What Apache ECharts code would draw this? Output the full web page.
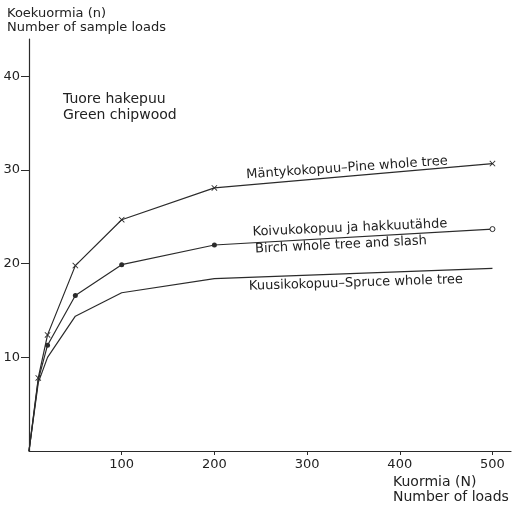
<!DOCTYPE html>
<html><head><meta charset="utf-8">
<script src="https://cdn.jsdelivr.net/npm/echarts@6/dist/echarts.min.js"></script>
<style>html,body{margin:0;padding:0;background:#fff}#c{width:514px;height:506px}</style>
</head><body><div id="c"></div>
<script>
const loads = [0, 10, 20, 50, 100, 200, 500];
const pine = [0, 7.8, 12.4, 19.8, 24.7, 28.1, 30.7];
const birch = [0, 7.6, 11.3, 16.6, 19.9, 22.0, 23.7];
const spruce = [0, 7.3, 10.0, 14.4, 16.9, 18.4, 19.5];
const xTicks = [100, 200, 300, 400, 500];
const yTicks = [10, 20, 30, 40];

const ink = '#2b2b2b';
const FONT = 'DejaVu Sans';
const X_SYM = 'path://M0,1L1,0L5,4L9,0L10,1L6,5L10,9L9,10L5,6L1,10L0,9L4,5Z';

const pineData = loads.map((x, i) => ({value: [x, pine[i]], symbol: i === 0 ? 'none' : X_SYM, symbolSize: 6}));
const birchData = loads.map((x, i) => {
  const d = {value: [x, birch[i]], symbol: i <= 1 ? 'none' : 'circle', symbolSize: 5};
  if (i === loads.length - 1) d.itemStyle = {color: '#fff', borderColor: ink, borderWidth: 1};
  return d;
});
const spruceData = loads.map((x, i) => [x, spruce[i]]);

function txt(x, y, s, size) {
  return {type: 'text', x: x, y: y, silent: true,
    style: {text: s, fill: '#222', font: size + 'px "' + FONT + '"', textAlign: 'left', textVerticalAlign: 'middle'}};
}
function rtxt(cx, cy, s, rot) {
  return {type: 'text', x: cx, y: cy, rotation: rot, silent: true,
    style: {text: s, fill: '#222', font: '13px "' + FONT + '"', textAlign: 'center', textVerticalAlign: 'middle'}};
}

const chart = echarts.init(document.getElementById('c'), null, {renderer: 'canvas'});
chart.setOption({
  animation: false,
  backgroundColor: '#fff',
  grid: {left: 29, right: 3, top: 39, bottom: 55, containLabel: false},
  xAxis: {
    type: 'value', min: 0, max: 520,
    axisLine: {show: true, lineStyle: {color: ink, width: 1.2}},
    axisTick: {show: true, length: 4, customValues: xTicks, lineStyle: {color: ink}},
    axisLabel: {customValues: xTicks, margin: 7, color: '#222', fontSize: 13, fontFamily: FONT},
    splitLine: {show: false}
  },
  yAxis: {
    type: 'value', min: 0, max: 44,
    axisLine: {show: true, lineStyle: {color: ink, width: 1.2}},
    axisTick: {show: true, length: 8, customValues: yTicks, lineStyle: {color: ink}},
    axisLabel: {customValues: yTicks, margin: 9, color: '#222', fontSize: 13, fontFamily: FONT},
    splitLine: {show: false}
  },
  series: [
    {type: 'line', data: pineData, lineStyle: {color: ink, width: 1.2}, itemStyle: {color: ink}, showAllSymbol: true},
    {type: 'line', data: birchData, lineStyle: {color: ink, width: 1.2}, itemStyle: {color: ink}, showAllSymbol: true},
    {type: 'line', data: spruceData, symbol: 'none', lineStyle: {color: ink, width: 1.2}}
  ],
  graphic: [
    txt(7, 14, 'Koekuormia (n)', 13),
    txt(7, 28, 'Number of sample loads', 13),
    txt(63, 99, 'Tuore hakepuu', 14),
    txt(63, 115, 'Green chipwood', 14),
    txt(393, 482, 'Kuormia (N)', 14),
    txt(393, 497, 'Number of loads', 14),
    rtxt(347, 168, 'Mäntykokopuu–Pine whole tree', 0.068),
    rtxt(350, 228, 'Koivukokopuu ja hakkuutähde', 0.043),
    rtxt(341, 245, 'Birch whole tree and slash', 0.049),
    rtxt(356, 283, 'Kuusikokopuu–Spruce whole tree', 0.031)
  ]
});
</script></body></html>
